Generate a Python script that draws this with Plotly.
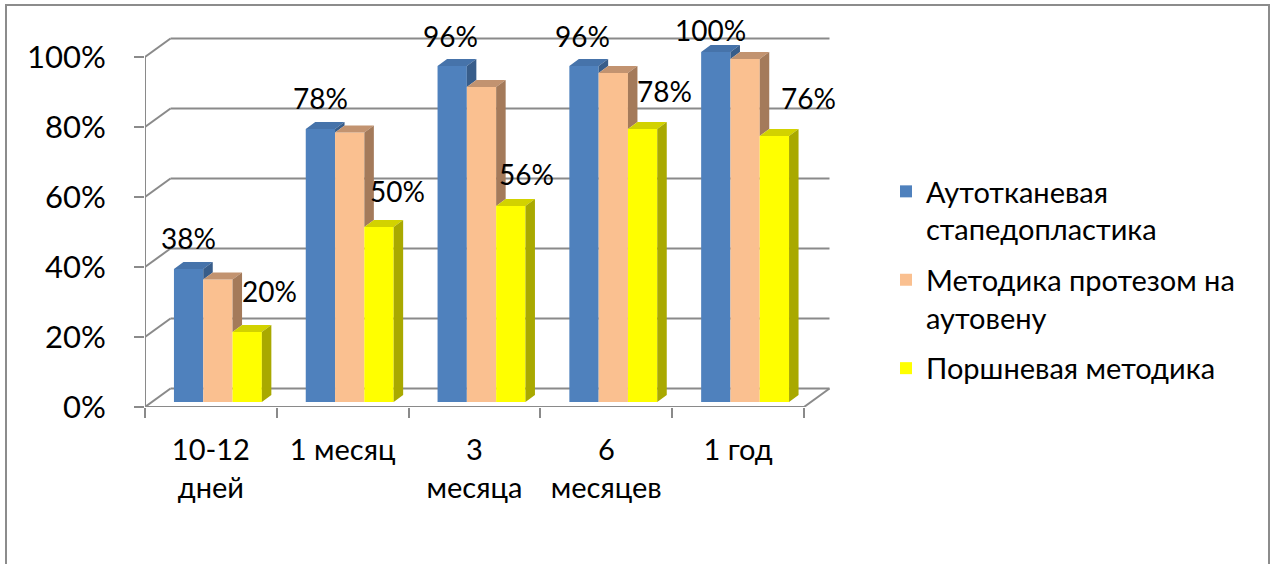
import plotly.graph_objects as go

# ---- data ---------------------------------------------------------------
categories = ["10-12<br>дней", "1 месяц", "3<br>месяца", "6<br>месяцев", "1 год"]
series_names = [
    "Аутотканевая<br>стапедопластика",
    "Методика протезом на<br>аутовену",
    "Поршневая методика",
]
autotissue = [38, 78, 96, 96, 100]
autovein = [35, 77, 90, 94, 98]
piston = [20, 50, 56, 78, 76]
y_ticks = [0, 20, 40, 60, 80, 100]
y_tick_labels = ["0%", "20%", "40%", "60%", "80%", "100%"]

# ---- styling ------------------------------------------------------------
FONT = "Lato, 'Noto Sans', sans-serif"
FS = 28
GRID = "#8a8a8a"
FRONT = ["#4F81BD", "#FAC090", "#FFFF00"]
TOP = ["#4673AA", "#C29370", "#D2D200"]
SIDE = ["#385D8A", "#A47A5A", "#A9A900"]

# canvas / projection geometry (pixels)
W, H = 1275, 564
AX_LEFT, AX_BOTTOM = 145, 407
PLOT_RIGHT, PLOT_TOP = 845, 18
UNIT_X = 131.8   # px per category
UNIT_Y = 3.5     # px per percent


def dx(px):
    return px / UNIT_X


def dy(px):
    return px / UNIT_Y


BAR_W = dx(29.3)
BAR_SHIFT_X, BAR_SHIFT_Y = dx(7), dy(5)        # bars sit slightly behind the front plane
DEPTH_X, DEPTH_Y = dx(9.5), dy(7)              # bar thickness
WALL_X, WALL_Y = dx(25.5), dy(18.5)            # back wall offset

x_range = [-0.5, -0.5 + (PLOT_RIGHT - AX_LEFT) / UNIT_X]
y_range = [0, (AX_BOTTOM - PLOT_TOP) / UNIT_Y]
n = len(categories)

series = [autotissue, autovein, piston]

fig = go.Figure()

# front faces
centers = []
for k, vals in enumerate(series):
    xs = [i + BAR_SHIFT_X + (k - 1) * BAR_W for i in range(n)]
    centers.append(xs)
    fig.add_trace(go.Bar(
        x=xs, y=vals, base=BAR_SHIFT_Y, width=BAR_W,
        name=series_names[k], legendgroup=f"s{k}",
        marker=dict(color=FRONT[k], line=dict(width=0)),
        hoverinfo="skip",
    ))

# top and side faces (only the parts not hidden by the neighbouring bar)
for k, vals in enumerate(series):
    tx, ty, sx, sy = [], [], [], []
    for i, v in enumerate(vals):
        xl = centers[k][i] - BAR_W / 2
        xr = centers[k][i] + BAR_W / 2
        t = BAR_SHIFT_Y + v
        tx += [xl, xl + DEPTH_X, xr + DEPTH_X, xr, xl, None]
        ty += [t, t + DEPTH_Y, t + DEPTH_Y, t, t, None]
        low = BAR_SHIFT_Y if k == len(series) - 1 else BAR_SHIFT_Y + series[k + 1][i]
        if t > low:
            sx += [xr, xr + DEPTH_X, xr + DEPTH_X, xr, xr, None]
            sy += [low, low + DEPTH_Y, t + DEPTH_Y, t, low, None]
    fig.add_trace(go.Scatter(x=tx, y=ty, mode="lines", fill="toself",
                             fillcolor=TOP[k], line=dict(width=0),
                             showlegend=False, hoverinfo="skip", cliponaxis=False))
    fig.add_trace(go.Scatter(x=sx, y=sy, mode="lines", fill="toself",
                             fillcolor=SIDE[k], line=dict(width=0),
                             showlegend=False, hoverinfo="skip", cliponaxis=False))

# back wall gridlines, floor and front axes
shapes = []
line = dict(color=GRID, width=2)
for v in y_ticks:
    shapes.append(dict(type="line", xref="x", yref="y", layer="below",
                       x0=-0.5 + WALL_X, x1=n - 0.5 + WALL_X,
                       y0=v + WALL_Y, y1=v + WALL_Y, line=line))
    shapes.append(dict(type="line", xref="x", yref="y", layer="below",
                       x0=-0.5, x1=-0.5 + WALL_X, y0=v, y1=v + WALL_Y, line=line))
shapes.append(dict(type="line", xref="x", yref="y", layer="below",
                   x0=n - 0.5, x1=n - 0.5 + WALL_X, y0=0, y1=WALL_Y, line=line))
shapes.append(dict(type="line", xref="x", yref="y", layer="below",
                   x0=-0.5, x1=n - 0.5, y0=0, y1=0, line=line))
shapes.append(dict(type="line", xref="x", yref="y", layer="below",
                   x0=-0.5, x1=-0.5, y0=0, y1=y_ticks[-1], line=line))

# outer chart frame
pw = PLOT_RIGHT - AX_LEFT
ph = AX_BOTTOM - PLOT_TOP


def px_to_paper_x(px):
    return (px - AX_LEFT) / pw


def px_to_paper_y(py):
    return (AX_BOTTOM - py) / ph


shapes.append(dict(type="rect", xref="paper", yref="paper",
                   x0=px_to_paper_x(6), x1=px_to_paper_x(1269),
                   y0=px_to_paper_y(575), y1=px_to_paper_y(5),
                   line=dict(color="#8c8c8c", width=2), layer="below"))

# value labels
annotations = []
blue_nudge = [(0, 31), (0, 31), (-2, 30), (-2, 30), (-5, 22)]
yellow_nudge = [(22, 41), (18, 36), (16, 32), (22, 38), (34, 38)]
for k, nudges in ((0, blue_nudge), (2, yellow_nudge)):
    for i, v in enumerate(series[k]):
        annotations.append(dict(
            x=centers[k][i], y=BAR_SHIFT_Y + v, xref="x", yref="y",
            text=f"{v}%", showarrow=False, xanchor="center", yanchor="middle",
            xshift=nudges[i][0], yshift=nudges[i][1],
            font=dict(family=FONT, size=FS, color="black"),
        ))

fig.update_layout(
    width=W, height=H,
    margin=dict(l=AX_LEFT, r=W - PLOT_RIGHT, t=PLOT_TOP, b=H - AX_BOTTOM, pad=0),
    paper_bgcolor="white", plot_bgcolor="rgba(0,0,0,0)",
    barmode="overlay",
    font=dict(family=FONT, size=FS, color="black"),
    shapes=shapes, annotations=annotations,
    showlegend=True,
    legend=dict(
        x=px_to_paper_x(886), y=px_to_paper_y(166), xanchor="left", yanchor="top",
        font=dict(family=FONT, size=29, color="black"),
        valign="top", bgcolor="rgba(0,0,0,0)", tracegroupgap=10,
    ),
    xaxis=dict(
        range=x_range, showgrid=False, zeroline=False, showline=False,
        tickmode="array", tickvals=list(range(n)), ticktext=categories,
        ticks="", ticklabelstandoff=23, tickfont=dict(size=29),
        minor=dict(tickmode="array", tickvals=[i - 0.5 for i in range(n + 1)],
                   ticks="outside", ticklen=10, tickwidth=2, tickcolor=GRID),
        fixedrange=True,
    ),
    yaxis=dict(
        range=y_range, showgrid=False, zeroline=False, showline=False,
        tickmode="array", tickvals=y_ticks, ticktext=y_tick_labels,
        ticks="outside", ticklen=10, tickwidth=2, tickcolor=GRID,
        ticklabelstandoff=22, tickfont=dict(size=31), fixedrange=True,
    ),
)

fig.write_html("out.html")
